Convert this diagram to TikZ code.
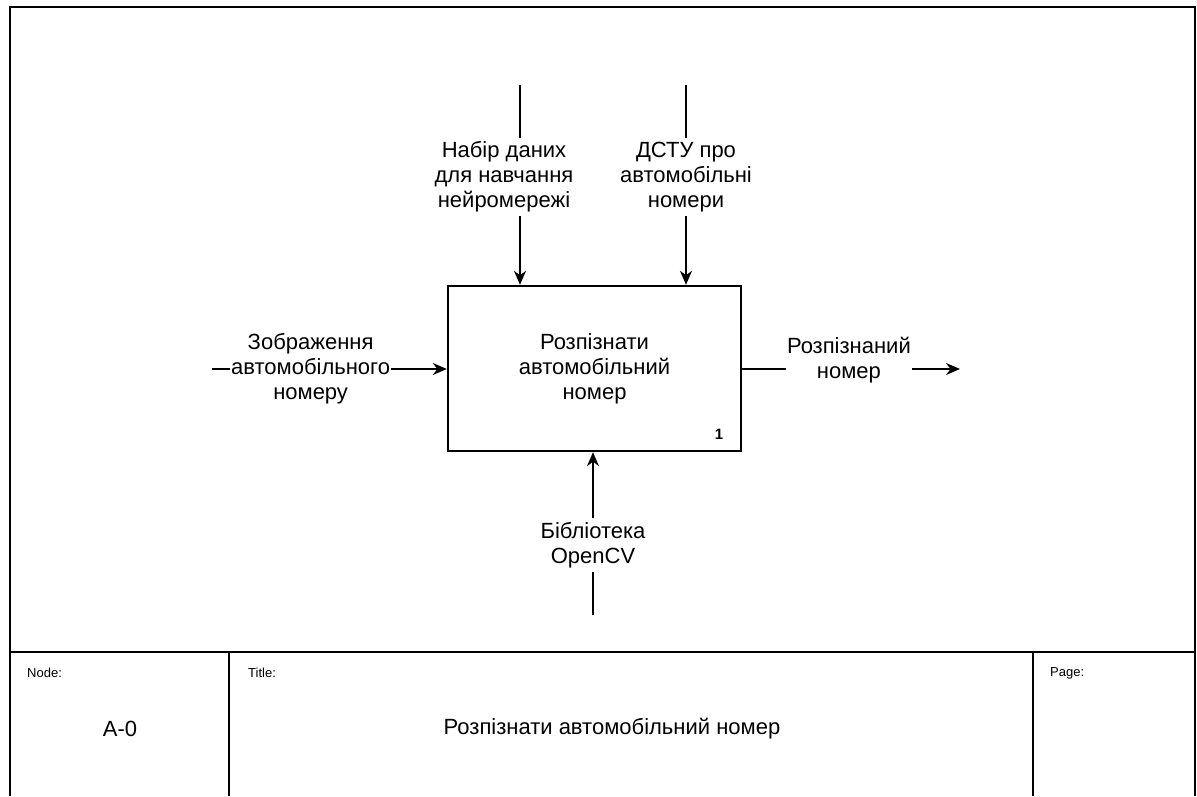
\documentclass[tikz,border=0pt]{standalone}
\usepackage{fontspec}
\setmainfont{Liberation Sans}
\usetikzlibrary{arrows.meta}

\begin{document}
\begin{tikzpicture}[x=1pt,y=-1pt,
    lbl/.style={fill=white,align=center,inner xsep=1pt,inner ysep=4pt,
      font=\fontsize{22}{25}\selectfont},
    arr/.style={-{Stealth[length=14pt,width=12pt]},line width=1.8pt},
    small/.style={font=\fontsize{13}{15}\selectfont,anchor=west,inner sep=0pt}]
  \useasboundingbox (0,0) rectangle (1197,796);
  % frame and title block
  \draw[line width=2.2pt] (10,796) -- (10,7) -- (1195,7) -- (1195,796);
  \draw[line width=2.2pt] (10,652) -- (1195,652);
  \draw[line width=2.2pt] (229,652) -- (229,796);
  \draw[line width=2.2pt] (1033,652) -- (1033,796);
  \node[small] (nodelbl) at (27,673) {Node:};
  \node[small] (titlelbl) at (248,673) {Title:};
  \node[small] (pagelbl) at (1050,673) {Page:};
  \node[font=\fontsize{22}{25}\selectfont] (nodeno) at (120,729) {A-0};
  \node[font=\fontsize{22}{25}\selectfont] (title) at (612,729) {Розпізнати автомобільний номер};

  % activity box
  \node[draw,line width=2.4pt,minimum width=293pt,minimum height=165pt,
    align=center,font=\fontsize{22}{25}\selectfont]
    (box) at (594.5,368.5) {Розпізнати\\автомобільний\\номер};
  \node[font=\bfseries\fontsize{15}{16}\selectfont] (num) at (719,434) {1};

  % free ends
  \coordinate (in) at (212,369);
  \coordinate (ctla) at (520,85);
  \coordinate (ctlb) at (686,85);
  \coordinate (out) at (960,369);
  \coordinate (mech) at (593,615);

  \draw[arr] (in) -- (in -| box.west)
    node[lbl,pos=0.42] (inlbl) {Зображення\\автомобільного\\номеру};
  \draw[arr] (ctla) -- (ctla |- box.north)
    node[lbl,pos=0.46,xshift=-16pt] (ctlalbl) {Набір даних\\для навчання\\нейромережі};
  \draw[arr] (ctlb) -- (ctlb |- box.north)
    node[lbl,pos=0.46] (ctlblbl) {ДСТУ про\\автомобільні\\номери};
  \draw[arr] (out -| box.east) -- (out)
    node[lbl,pos=0.49,yshift=9pt] (outlbl) {Розпізнаний\\номер};
  \draw[arr] (mech) -- (mech |- box.south)
    node[lbl,pos=0.43] (mechlbl) {Бібліотека\\OpenCV};
\end{tikzpicture}
\end{document}
